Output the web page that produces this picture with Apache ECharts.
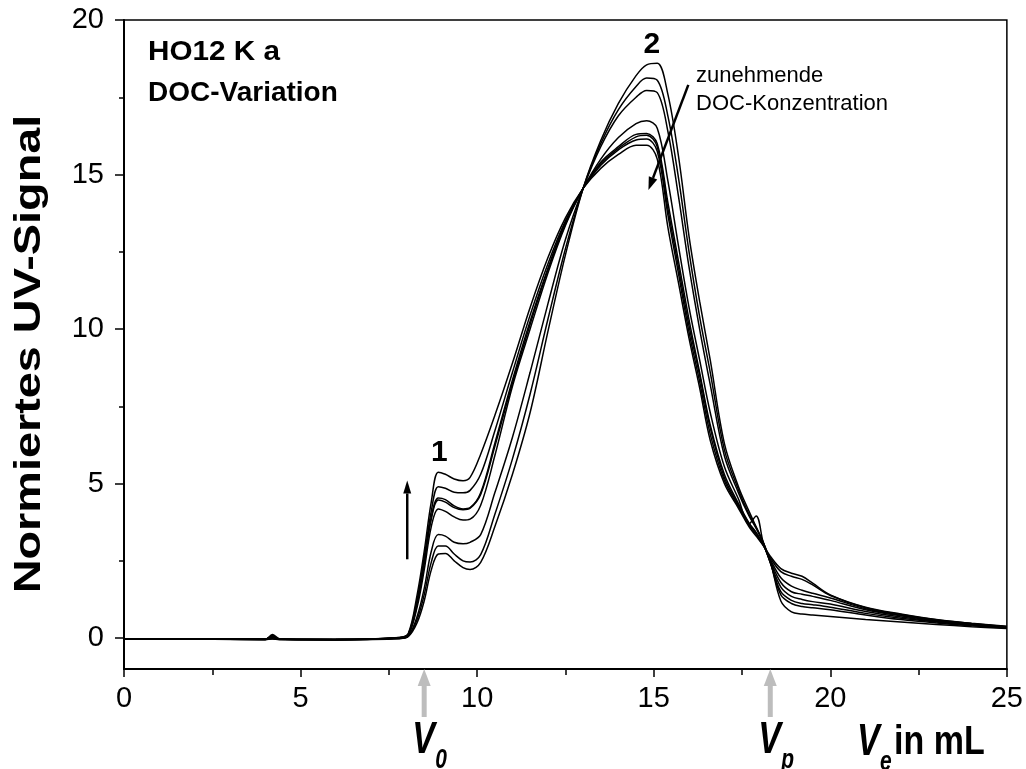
<!DOCTYPE html>
<html>
<head>
<meta charset="utf-8">
<title>HO12 K a DOC-Variation</title>
<script src="https://cdn.jsdelivr.net/npm/echarts@6/dist/echarts.min.js"></script>
<style>
    html, body { margin: 0; padding: 0; background: #fff; }
    #charts { width: 1026px; height: 769px; }
</style>
</head>
<body>
<div id="charts"></div>
<script>
// Elutionsvolumen (mL)
var volumes = [0, 2, 4, 4.2, 4.4, 6, 7.8, 8.05, 8.3, 8.5, 8.7, 8.9, 9.1, 9.35, 9.6, 9.8, 10.1, 10.5, 11, 11.5, 12, 12.5, 13, 13.5, 14, 14.5, 14.8, 15.1, 15.4, 15.7, 16, 16.3, 16.6, 17, 17.4, 17.7, 17.9, 18.1, 18.3, 18.6, 18.9, 19.2, 19.5, 20, 21, 22, 23, 24, 25];

// normiertes UV-Signal, von niedriger zu hoher DOC-Konzentration
var docCurve1 = [-0.03, -0.02, -0.05, -0.03, -0.04, -0.05, -0.02, 0.05, 0.5, 1.2, 2.2, 2.72, 2.74, 2.5, 2.28, 2.22, 2.45, 3.6, 5.3, 7.3, 9.9, 12.4, 14.55, 16.1, 17.3, 18.2, 18.55, 18.6, 17.6, 15.6, 13.0, 10.9, 9.0, 6.3, 4.9, 4.1, 3.6, 3.1, 2.5, 1.2, 0.85, 0.78, 0.75, 0.7, 0.6, 0.52, 0.44, 0.37, 0.31];
var docCurve2 = [-0.02, -0.03, -0.04, -0.02, -0.05, -0.04, -0.01, 0.06, 0.6, 1.4, 2.45, 2.98, 2.98, 2.72, 2.5, 2.46, 2.7, 4.0, 5.8, 7.9, 10.3, 12.6, 14.55, 16.0, 17.1, 17.85, 18.12, 18.05, 16.9, 14.9, 12.5, 10.4, 8.6, 6.1, 4.8, 4.0, 3.58, 3.1, 2.45, 1.4, 1.12, 1.02, 0.98, 0.92, 0.75, 0.6, 0.49, 0.4, 0.33];
var docCurve3 = [-0.03, -0.04, -0.03, 0.02, -0.04, -0.06, 0.0, 0.07, 0.7, 1.6, 2.8, 3.35, 3.3, 3.1, 3.05, 3.1, 3.35, 4.7, 6.5, 8.6, 10.8, 12.9, 14.55, 15.9, 16.9, 17.5, 17.72, 17.65, 16.4, 14.3, 12.0, 10.0, 8.2, 5.9, 4.7, 3.95, 3.55, 3.08, 2.45, 1.5, 1.22, 1.12, 1.08, 1.0, 0.8, 0.64, 0.52, 0.42, 0.34];
var docCurve4 = [-0.02, -0.02, -0.04, 0.08, -0.03, -0.05, 0.0, 0.1, 1.0, 2.2, 3.6, 4.18, 4.1, 3.92, 3.82, 3.85, 4.3, 5.9, 8.15, 10.0, 11.8, 13.35, 14.55, 15.5, 16.2, 16.65, 16.74, 16.5, 14.8, 12.7, 10.7, 9.0, 7.3, 5.55, 4.5, 3.7, 3.95, 3.1, 2.45, 1.65, 1.35, 1.25, 1.18, 1.1, 0.86, 0.68, 0.54, 0.44, 0.35];
var docCurve5 = [-0.04, -0.03, -0.05, 0.12, -0.02, -0.04, 0.01, 0.1, 1.1, 2.4, 3.85, 4.47, 4.4, 4.22, 4.15, 4.2, 4.65, 6.2, 8.25, 10.15, 11.9, 13.4, 14.55, 15.4, 15.9, 16.3, 16.33, 16.0, 14.1, 12.2, 10.3, 8.6, 6.9, 5.3, 4.35, 3.72, 3.42, 3.03, 2.5, 1.8, 1.5, 1.42, 1.35, 1.22, 0.92, 0.72, 0.56, 0.45, 0.36];
var docCurve6 = [-0.03, -0.02, -0.03, 0.05, -0.03, -0.05, 0.01, 0.12, 1.15, 2.45, 3.9, 4.53, 4.48, 4.28, 4.18, 4.22, 4.7, 6.3, 8.35, 10.25, 11.95, 13.45, 14.55, 15.35, 15.85, 16.22, 16.27, 15.9, 13.9, 12.0, 10.1, 8.5, 6.8, 5.2, 4.3, 3.7, 3.4, 3.02, 2.55, 1.95, 1.68, 1.55, 1.45, 1.3, 0.95, 0.74, 0.58, 0.46, 0.37];
var docCurve7 = [-0.02, -0.03, -0.04, 0.03, -0.04, -0.04, 0.02, 0.13, 1.25, 2.6, 4.1, 4.9, 4.85, 4.72, 4.7, 4.78, 5.3, 6.7, 8.6, 10.45, 12.1, 13.5, 14.55, 15.3, 15.8, 16.12, 16.15, 15.75, 13.7, 11.8, 9.9, 8.3, 6.6, 5.1, 4.25, 3.65, 3.35, 3.0, 2.6, 2.15, 2.0, 1.9, 1.72, 1.38, 0.98, 0.76, 0.59, 0.47, 0.37];
var docCurve8 = [-0.03, -0.02, -0.04, 0.06, -0.03, -0.05, 0.02, 0.15, 1.4, 2.8, 4.4, 5.37, 5.3, 5.15, 5.09, 5.2, 5.95, 7.2, 8.9, 10.7, 12.3, 13.6, 14.55, 15.2, 15.65, 15.95, 15.95, 15.5, 13.3, 11.5, 9.7, 8.1, 6.4, 5.0, 4.2, 3.6, 3.3, 3.0, 2.65, 2.25, 2.1, 2.0, 1.78, 1.4, 1.0, 0.78, 0.6, 0.48, 0.38];

var curves = [docCurve1, docCurve2, docCurve3, docCurve4, docCurve5, docCurve6, docCurve7, docCurve8];

// Achsenbeschriftung
var yTickValues = [0, 5, 10, 15, 20];
var yMinorValues = [2.5, 7.5, 12.5, 17.5];
var markVolumes = [8.5, 18.3]; // V0, Vp

var FONT = '"Liberation Sans", Arial, sans-serif';

var chartDiv = document.getElementById('charts');
var charts = echarts.init(chartDiv);

var series = [];
for (var i = 0; i < curves.length; i++) {
    var pts = [];
    for (var j = 0; j < volumes.length; j++) {
        pts.push([volumes[j], curves[i][j]]);
    }
    series.push({
        type: 'line',
        data: pts,
        showSymbol: false,
        smooth: 0.35,
        lineStyle: { color: '#000', width: 1.5 },
        silent: true,
        z: 3
    });
}

var tickStyle = { color: '#000', width: 1.5 };
var option = {
    animation: false,
    backgroundColor: '#fff',
    grid: {
        left: 124, right: 18, top: 20, bottom: 100,
        show: true, borderColor: '#000', borderWidth: 1.5
    },
    xAxis: {
        type: 'value', min: 0, max: 25, interval: 5,
        axisLine: { show: true, onZero: false, lineStyle: { color: '#000', width: 2 } },
        axisTick: { show: true, inside: false, length: 8, lineStyle: tickStyle },
        minorTick: { show: true, splitNumber: 2, length: 6, lineStyle: tickStyle },
        splitLine: { show: false },
        axisLabel: { color: '#000', fontSize: 29, fontFamily: FONT, margin: 15 }
    },
    yAxis: [{
        type: 'value', min: -1, max: 20,
        axisLine: { show: true, onZero: false, lineStyle: { color: '#000', width: 2 } },
        axisTick: { show: true, inside: false, length: 9, customValues: yTickValues, lineStyle: tickStyle },
        splitLine: { show: false },
        axisLabel: { color: '#000', fontSize: 29, fontFamily: FONT, margin: 20, customValues: yTickValues }
    }, {
        // Zwischenstriche bei 2.5er Schritten
        type: 'value', min: -1, max: 20, position: 'left', offset: 0,
        axisLine: { show: false },
        axisTick: { show: true, inside: false, length: 5, customValues: yMinorValues, lineStyle: tickStyle },
        splitLine: { show: false },
        axisLabel: { show: false }
    }],
    series: series
};
charts.setOption(option);

function px(x, y) {
    return charts.convertToPixel({ gridIndex: 0 }, [x, y]);
}

function arrow(p0, p1, color, width, headLen, headHalf) {
    var dx = p1[0] - p0[0], dy = p1[1] - p0[1];
    var len = Math.sqrt(dx * dx + dy * dy);
    var ux = dx / len, uy = dy / len;
    var bx = p1[0] - ux * headLen, by = p1[1] - uy * headLen;
    return [{
        type: 'line',
        shape: { x1: p0[0], y1: p0[1], x2: bx, y2: by },
        style: { stroke: color, lineWidth: width },
        z: 10
    }, {
        type: 'polygon',
        shape: { points: [[p1[0], p1[1]], [bx - uy * headHalf, by + ux * headHalf], [bx + uy * headHalf, by - ux * headHalf]] },
        style: { fill: color },
        z: 10
    }];
}

function text(str, x, y, size, weight, opts) {
    opts = opts || {};
    return {
        type: 'text', x: x, y: y, z: 11,
        rotation: opts.rotation || 0,
        scaleX: opts.sx || 1, scaleY: opts.sy || 1,
        style: {
            text: str, fill: '#000',
            font: (opts.italic ? 'italic ' : '') + weight + ' ' + size + 'px ' + FONT,
            textAlign: opts.align || 'left', textVerticalAlign: opts.valign || 'middle'
        }
    };
}

var graphics = [];
// Achsentitel
graphics.push(text('Normiertes UV-Signal', 30, 354, 36, 'bold', { align: 'center', rotation: Math.PI / 2, sx: 1.3 }));
// Probenbezeichnung
graphics.push(text('HO12 K a', 148, 52, 28, 'bold', { sx: 1.06 }));
graphics.push(text('DOC-Variation', 148, 93, 28, 'bold'));
// Peaknummern
var p1 = px(8.93, 6.0), p2 = px(14.95, 19.2);
graphics.push(text('1', p1[0], p1[1], 30, 'bold', { align: 'center' }));
graphics.push(text('2', p2[0], p2[1], 30, 'bold', { align: 'center' }));
// Trendpfeile
graphics = graphics.concat(arrow(px(8.02, 2.55), px(8.02, 5.1), '#000', 2.5, 13, 4));
graphics = graphics.concat(arrow(px(15.98, 17.9), px(14.85, 14.5), '#000', 2.5, 13, 4.5));
var zt = px(16.2, 18.2);
graphics.push(text('zunehmende', zt[0], zt[1], 22, 'normal'));
graphics.push(text('DOC-Konzentration', zt[0], zt[1] + 28, 22, 'normal'));
// V0 / Vp Markierungen
var axisY = px(0, -1)[1];
var vSubs = ['0', 'p'];
for (var k = 0; k < markVolumes.length; k++) {
    var mx = px(markVolumes[k], -1)[0];
    graphics = graphics.concat(arrow([mx, axisY + 48], [mx, axisY], '#bdbdbd', 5, 17, 6.5));
    graphics.push(text('V', mx - 12, axisY + 72, 34, 'bold', { italic: true, sy: 1.3 }));
    graphics.push(text(vSubs[k], mx + 11, axisY + 91, 21, 'bold', { italic: true, sy: 1.3 }));
}
graphics.push(text('V', 857, axisY + 74, 34, 'bold', { italic: true, sy: 1.3 }));
graphics.push(text('e', 880, axisY + 93, 21, 'bold', { italic: true, sy: 1.3 }));
graphics.push(text('in mL', 894, axisY + 74, 34, 'bold', { sy: 1.2 }));

charts.setOption({ graphic: graphics });
</script>
</body>
</html>
